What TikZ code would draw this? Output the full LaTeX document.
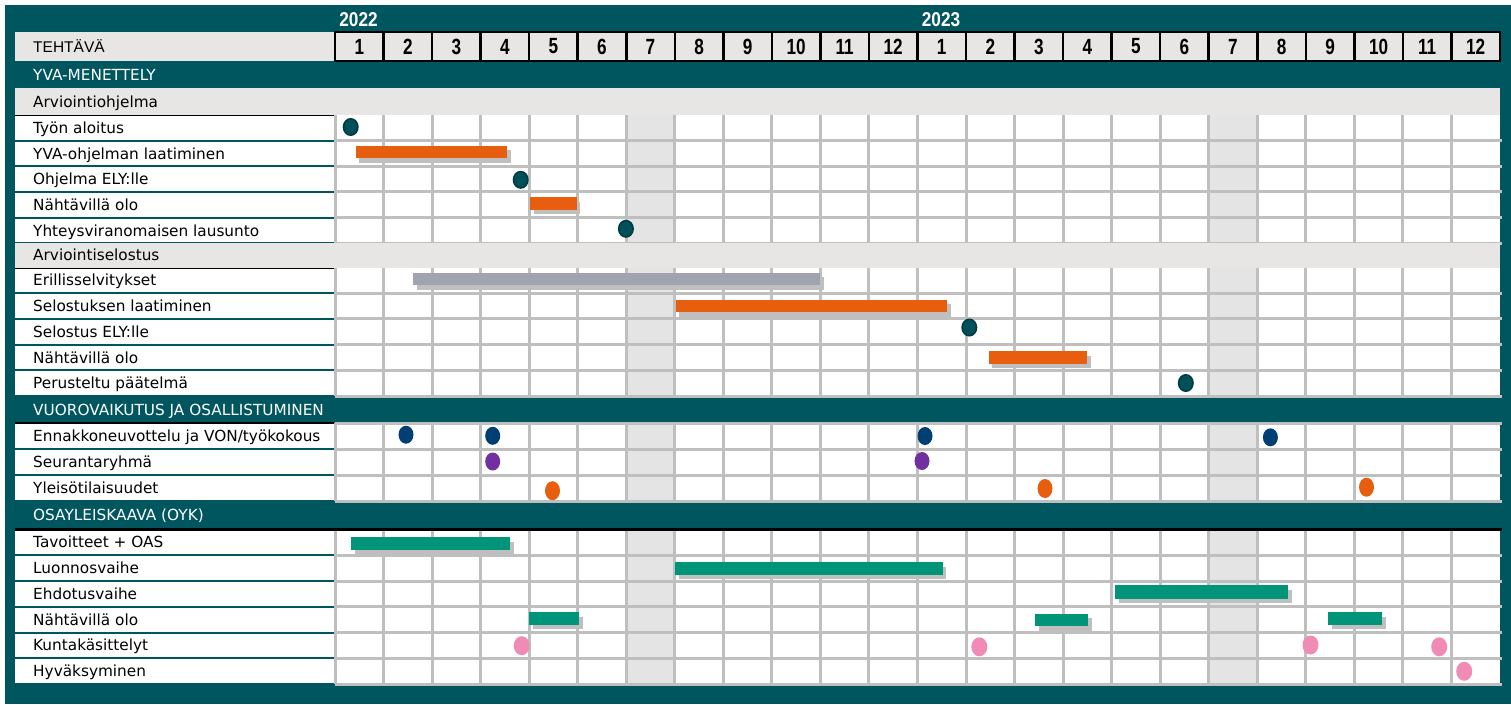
\documentclass[tikz,border=0pt]{standalone}
\usepackage{fontspec}
\setmainfont{DejaVu Sans}
\newfontfamily\headfont{Liberation Sans}
\newfontfamily\numfont[FakeStretch=0.78]{Liberation Sans}
\newfontfamily\yearfont[FakeStretch=0.86]{Liberation Sans}
\usepackage{xcolor}
\usetikzlibrary{shapes.geometric, shadows}
\definecolor{frame-teal}{HTML}{00565F}
\definecolor{band-gray}{HTML}{E7E6E4}
\definecolor{grid-gray}{HTML}{BFBFBF}
\definecolor{summer-gray}{HTML}{E4E4E4}
\definecolor{bar-orange}{HTML}{E85E0F}
\definecolor{bar-gray}{HTML}{A0A4AE}
\definecolor{bar-green}{HTML}{009479}
\definecolor{dot-teal}{HTML}{00505A}
\definecolor{dot-rim}{HTML}{003A42}
\definecolor{dot-blue}{HTML}{003F73}
\definecolor{dot-purple}{HTML}{7030A0}
\definecolor{dot-pink}{HTML}{F08BB6}

\tikzset{
  tasklabel/.style={anchor=base west, yshift=-5.5pt, inner sep=0pt, font=\fontsize{15.3}{18}\selectfont},
  sectionlabel/.style={tasklabel, text=white},
  headlabel/.style={anchor=base west, yshift=-5.8pt, inner sep=0pt, font=\headfont\fontsize{15.5}{18}\selectfont},
  yearlabel/.style={inner sep=0pt, text=white, font=\yearfont\bfseries\fontsize{20}{22}\selectfont},
  monthcell/.style={draw=black, line width=2.5pt, fill=band-gray, inner sep=0pt,
    minimum width=48.54pt, minimum height=29pt, font=\numfont\bfseries\fontsize{22}{24}\selectfont},
  gridline/.style={draw=grid-gray, line width=3pt},
  taskbar/.style={anchor=west, inner sep=0pt, minimum height=12.6pt,
    general shadow={fill=grid-gray, shadow xshift=3.6pt, shadow yshift=-4.6pt}},
  milestone/.style={ellipse, inner sep=0pt, minimum width=15pt, minimum height=18pt},
  keystone/.style={milestone, fill=dot-teal, draw=dot-rim, line width=1.5pt, minimum width=14.5pt, minimum height=16.5pt}
}

% one block of task rows: top, bottom, number of rows
\newcommand{\taskblock}[3]{%
  \fill[white] (15,#1) rectangle (1500,#2);
  \foreach \c in {6,18}
    \fill[summer-gray] ({335+48.54*\c},#1) rectangle ({335+48.54*(\c+1)},#2);
  \foreach \k in {0,...,23}
    \draw[gridline] ({335+48.54*\k},#1) -- ({335+48.54*\k},#2);
  \foreach \r in {1,...,#3}{
    \pgfmathsetmacro\yy{#1+\r*(#2-#1)/#3}
    \draw[gridline] (335,\yy) -- (1501.5,\yy);
  }
  \foreach \r in {1,...,#3}{
    \pgfmathsetmacro\yy{#1+\r*(#2-#1)/#3}
    \draw[line width=2pt, frame-teal] (15,\yy) -- (333.5,\yy);
  }
  \draw[line width=2pt, black] (15,#1) -- (333.5,#1);
}

\begin{document}
\begin{tikzpicture}[x=1pt, y=-1pt]
  % Coordinates in pixels of the 1511x704 board, y grows downwards
  %   month k (0..23) spans x = 335+48.54k .. 335+48.54(k+1)
  \useasboundingbox (0,0) rectangle (1511,704);
  \fill[frame-teal] (5,5) rectangle (1511,704);

  % years and month header
  \node[yearlabel] (y2022) at (358.5,20) {2022};
  \node[yearlabel] (y2023) at (941,20) {2023};
  \fill[band-gray] (15,32) rectangle (335,61);
  \node[headlabel] (h-task) at (33,46.5) {TEHTÄVÄ};
  \foreach \yr in {0,1}
    \foreach \m in {1,...,12}
      \node[monthcell] (m-\yr-\m) at ({359.27+48.54*(12*\yr+\m-1)},46.5) {\m};

  % task rows
  \taskblock{115}{243.3}{5}
  \taskblock{267.5}{396}{5}
  \taskblock{423}{501}{3}
  \draw[gridline] (335,423) -- (1501.5,423);
  \taskblock{529.5}{684}{6}
  \draw[line width=2.5pt, black] (15,529.5) -- (1501.5,529.5);

  % grey sub-headings
  \fill[band-gray] (15,88) rectangle (1500,115);
  \fill[band-gray] (15,243.3) rectangle (1500,267.5);

  \node[sectionlabel] (s-yva) at (33,74.5) {YVA-MENETTELY};
  \node[tasklabel] (s-ohjelma) at (33,101.5) {Arviointiohjelma};
  \node[tasklabel] (t-aloitus) at (33,127.8) {Työn aloitus};
  \node[tasklabel] (t-laatiminen) at (33,153.5) {YVA-ohjelman laatiminen};
  \node[tasklabel] (t-ohjely) at (33,179.2) {Ohjelma ELY:lle};
  \node[tasklabel] (t-nahtava1) at (33,204.8) {Nähtävillä olo};
  \node[tasklabel] (t-lausunto) at (33,230.5) {Yhteysviranomaisen lausunto};
  \node[tasklabel] (s-selostus) at (33,255.4) {Arviointiselostus};
  \node[tasklabel] (t-selvitykset) at (33,280.4) {Erillisselvitykset};
  \node[tasklabel] (t-selostus) at (33,306.1) {Selostuksen laatiminen};
  \node[tasklabel] (t-selely) at (33,331.8) {Selostus ELY:lle};
  \node[tasklabel] (t-nahtava2) at (33,357.5) {Nähtävillä olo};
  \node[tasklabel] (t-paatelma) at (33,383.2) {Perusteltu päätelmä};
  \node[sectionlabel] (s-vuoro) at (33,409.5) {VUOROVAIKUTUS JA OSALLISTUMINEN};
  \node[tasklabel] (t-ennakko) at (33,436) {Ennakkoneuvottelu ja VON/työkokous};
  \node[tasklabel] (t-seuranta) at (33,462) {Seurantaryhmä};
  \node[tasklabel] (t-yleiso) at (33,488) {Yleisötilaisuudet};
  \node[sectionlabel] (s-oyk) at (33,515.2) {OSAYLEISKAAVA (OYK)};
  \node[tasklabel] (t-tavoitteet) at (33,542.4) {Tavoitteet + OAS};
  \node[tasklabel] (t-luonnos) at (33,568.1) {Luonnosvaihe};
  \node[tasklabel] (t-ehdotus) at (33,593.9) {Ehdotusvaihe};
  \node[tasklabel] (t-nahtava3) at (33,619.6) {Nähtävillä olo};
  \node[tasklabel] (t-kunta) at (33,645.4) {Kuntakäsittelyt};
  \node[tasklabel] (t-hyvaksy) at (33,671.1) {Hyväksyminen};

  % bars
  \node[taskbar, fill=bar-orange, minimum width=151.2pt] (b-laatiminen) at (355.6,152) {};
  \node[taskbar, fill=bar-orange, minimum width=46.2pt] (b-nahtava1) at (530.2,203.3) {};
  \node[taskbar, fill=bar-gray, minimum width=407.4pt] (b-selvitykset) at (412.8,278.9) {};
  \node[taskbar, fill=bar-orange, minimum width=271.7pt] (b-selostus) at (675.4,305.9) {};
  \node[taskbar, fill=bar-orange, minimum width=98.4pt] (b-nahtava2) at (988.6,357.4) {};
  \node[taskbar, fill=bar-green, minimum width=159.1pt, minimum height=13pt] (b-tavoitteet) at (350.7,543.5) {};
  \node[taskbar, fill=bar-green, minimum width=267.6pt] (b-luonnos) at (675,568.5) {};
  \node[taskbar, fill=bar-green, minimum width=173pt, minimum height=13.5pt] (b-ehdotus) at (1114.9,592) {};
  \node[taskbar, fill=bar-green, minimum width=49.7pt] (b-nahtava3a) at (529,618.5) {};
  \node[taskbar, fill=bar-green, minimum width=53.1pt] (b-nahtava3b) at (1035,619.8) {};
  \node[taskbar, fill=bar-green, minimum width=53.9pt] (b-nahtava3c) at (1327.8,618.4) {};

  % milestones
  \node[keystone] (d-aloitus) at (350.7,127) {};
  \node[keystone] (d-ohjely) at (520.7,179.8) {};
  \node[keystone] (d-lausunto) at (625.9,228.8) {};
  \node[keystone] (d-selely) at (969.3,327.5) {};
  \node[keystone] (d-paatelma) at (1185.8,383) {};
  \node[milestone, fill=dot-blue] (d-ennakko1) at (406,434.7) {};
  \node[milestone, fill=dot-blue] (d-ennakko2) at (492.7,435.8) {};
  \node[milestone, fill=dot-blue] (d-ennakko3) at (925,436) {};
  \node[milestone, fill=dot-blue] (d-ennakko4) at (1270.4,437.3) {};
  \node[milestone, fill=dot-purple] (d-seuranta1) at (492.7,461.5) {};
  \node[milestone, fill=dot-purple] (d-seuranta2) at (922,461) {};
  \node[milestone, fill=bar-orange, minimum height=19pt] (d-yleiso1) at (552.5,490.7) {};
  \node[milestone, fill=bar-orange, minimum height=19pt] (d-yleiso2) at (1045,488.5) {};
  \node[milestone, fill=bar-orange, minimum height=19pt] (d-yleiso3) at (1366.5,487.2) {};
  \node[milestone, fill=dot-pink, minimum width=16pt, minimum height=19pt] (d-kunta1) at (521.7,645.7) {};
  \node[milestone, fill=dot-pink, minimum width=16pt, minimum height=19pt] (d-kunta2) at (979.3,646.8) {};
  \node[milestone, fill=dot-pink, minimum width=16pt, minimum height=19pt] (d-kunta3) at (1310.5,645) {};
  \node[milestone, fill=dot-pink, minimum width=16pt, minimum height=19pt] (d-kunta4) at (1439.2,646.8) {};
  \node[milestone, fill=dot-pink, minimum width=16pt, minimum height=19pt] (d-hyvaksy) at (1464.2,671.3) {};
\end{tikzpicture}
\end{document}
